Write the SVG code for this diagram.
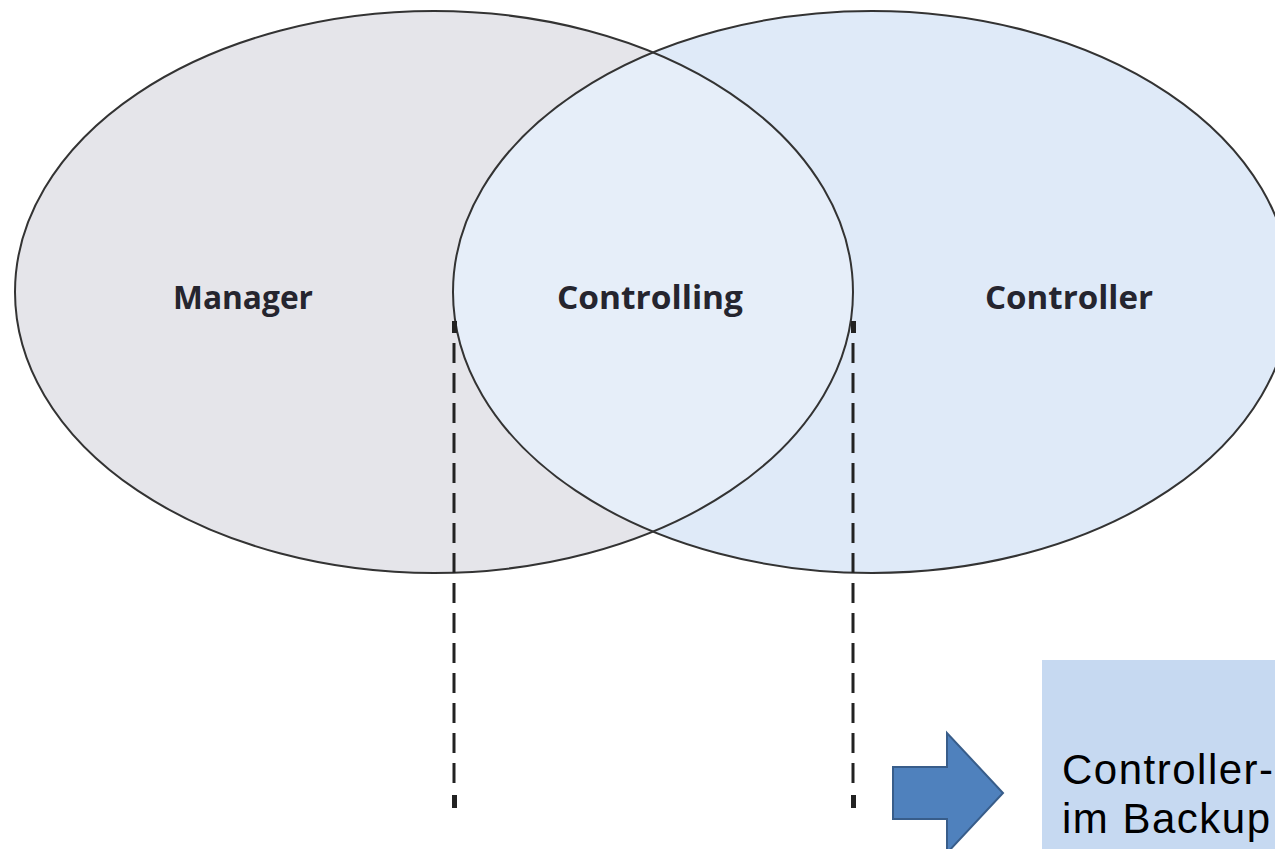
<svg xmlns="http://www.w3.org/2000/svg" width="1275" height="849" viewBox="0 0 1275 849">
<style>
.lbl{font-family:"Open Sans","Noto Sans",sans-serif;font-weight:bold;font-size:32px;fill:#25252f;text-anchor:middle}
.ell{stroke:#333;stroke-width:2}
.dash{stroke:#222;stroke-width:3;stroke-dasharray:20 10;fill:none}
.cap{fill:#222}
.box{font-family:"Liberation Sans",Arial,sans-serif;font-size:42px;letter-spacing:1.5px;fill:#000}
</style>
<defs>
<clipPath id="leftClip"><ellipse cx="434" cy="292" rx="419" ry="281"/></clipPath>
</defs>
<rect width="1275" height="849" fill="#fff"/>
<g id="manager">
<ellipse cx="434" cy="292" rx="419" ry="281" fill="#e5e5ea"/>
</g>
<g id="controller">
<ellipse cx="872" cy="292" rx="419" ry="281" fill="#dfeaf8"/>
</g>
<g id="controlling">
<ellipse cx="872" cy="292" rx="419" ry="281" fill="#e6eef9" clip-path="url(#leftClip)"/>
</g>
<g id="outlines" fill="none">
<ellipse class="ell" cx="434" cy="292" rx="419" ry="281"/>
<ellipse class="ell" cx="872" cy="292" rx="419" ry="281"/>
</g>
<g id="labels">
<text class="lbl" x="243" y="309" textLength="140" lengthAdjust="spacingAndGlyphs">Manager</text>
<text class="lbl" x="650" y="309" textLength="186" lengthAdjust="spacingAndGlyphs">Controlling</text>
<text class="lbl" x="1069" y="309" textLength="168" lengthAdjust="spacingAndGlyphs">Controller</text>
</g>
<g id="connectors">
<line class="dash" x1="454" y1="343" x2="454" y2="790"/>
<rect class="cap" x="452" y="321" width="5" height="12"/>
<rect class="cap" x="452" y="795" width="5" height="13"/>
<line class="dash" x1="853" y1="343" x2="853" y2="790"/>
<rect class="cap" x="851" y="321" width="5" height="12"/>
<rect class="cap" x="851" y="795" width="5" height="13"/>
</g>
<g id="arrow">
<polygon points="893,767 947,767 947,733 1003,793 947,853 947,819 893,819" fill="#4f81bd" stroke="#385d8a" stroke-width="2"/>
</g>
<g id="note">
<rect x="1042" y="660" width="240" height="200" fill="#c6d9f1"/>
<text class="box" x="1062" y="784">Controller-</text>
<text class="box" x="1062" y="833">im Backup</text>
</g>
</svg>
